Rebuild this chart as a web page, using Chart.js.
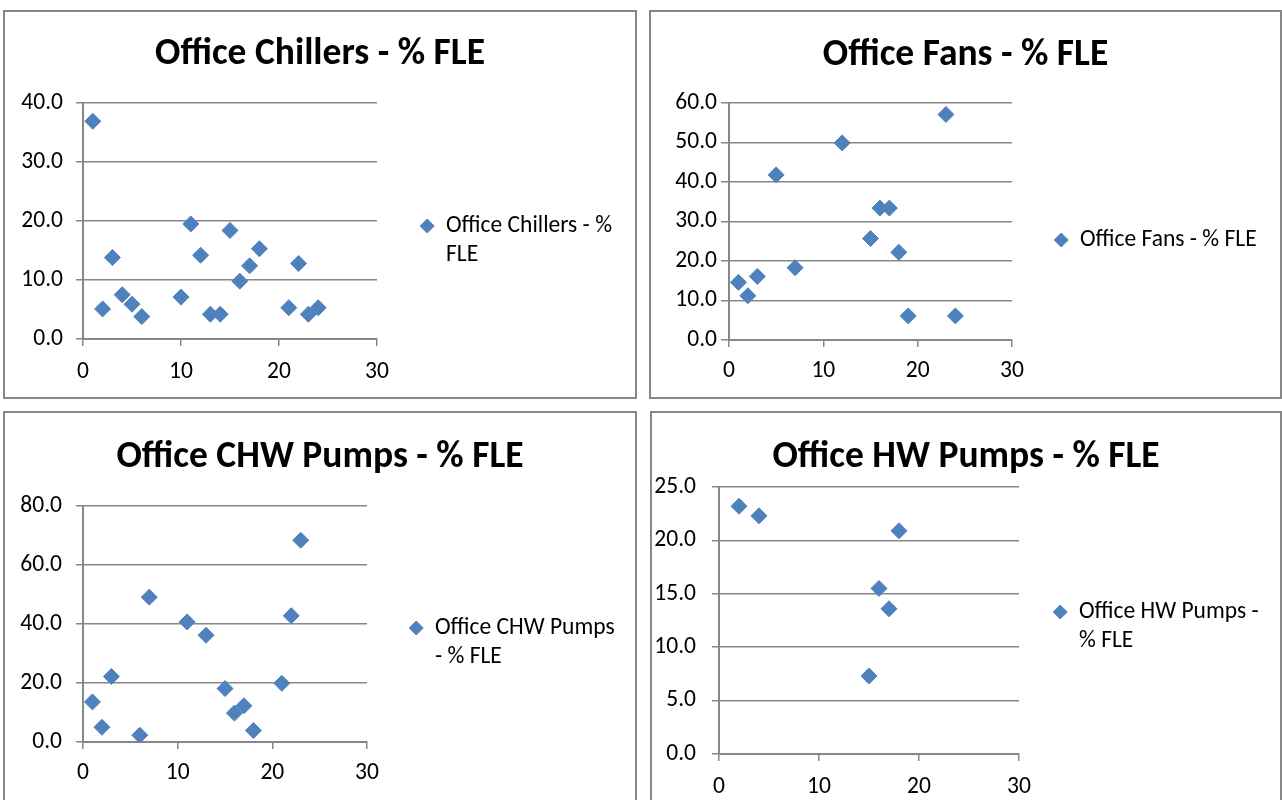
<!DOCTYPE html>
<html>
<head>
<meta charset="utf-8">
<script src="https://cdn.jsdelivr.net/npm/chart.js@4.4.1/dist/chart.umd.min.js"></script>
<style>
  html, body { margin: 0; padding: 0; background: #ffffff; }
  #page { position: relative; width: 1282px; height: 800px; overflow: hidden; background: #ffffff; }
  .box { position: absolute; box-sizing: border-box; border: 2px solid #878787; background: #ffffff; }
  .box canvas { display: block; }
</style>
</head>
<body>
<div id="page">
  <div class="box" style="left:3px;top:10px;width:634px;height:389px"><canvas id="c0"></canvas></div>
  <div class="box" style="left:649px;top:10px;width:633px;height:389px"><canvas id="c1"></canvas></div>
  <div class="box" style="left:3px;top:411px;width:634px;height:400px"><canvas id="c2"></canvas></div>
  <div class="box" style="left:650px;top:411px;width:632px;height:400px"><canvas id="c3"></canvas></div>
</div>
<script>
// ---------------- DATA ----------------
const xTicks = [0, 10, 20, 30];

const chillersTitle = 'Office Chillers - % FLE';
const chillersLegend = ['Office Chillers - %', 'FLE'];
const chillersX = [1, 2, 3, 4, 5, 6, 10, 11, 12, 13, 14, 15, 16, 17, 18, 21, 22, 23, 24];
const chillersY = [36.9, 5.1, 13.8, 7.5, 5.9, 3.8, 7.1, 19.5, 14.2, 4.2, 4.2, 18.4, 9.8, 12.4, 15.3, 5.3, 12.8, 4.2, 5.3];
const chillersYTicks = [0, 10, 20, 30, 40];

const fansTitle = 'Office Fans - % FLE';
const fansLegend = ['Office Fans - % FLE'];
const fansX = [1, 2, 3, 5, 7, 12, 15, 16, 17, 18, 19, 23, 24];
const fansY = [14.6, 11.2, 16.1, 41.8, 18.3, 49.9, 25.7, 33.4, 33.4, 22.2, 6.1, 57.1, 6.1];
const fansYTicks = [0, 10, 20, 30, 40, 50, 60];

const chwTitle = 'Office CHW Pumps - % FLE';
const chwLegend = ['Office CHW Pumps', '- % FLE'];
const chwX = [1, 2, 3, 6, 7, 11, 13, 15, 16, 17, 18, 21, 22, 23];
const chwY = [13.6, 5.0, 22.2, 2.3, 49.1, 40.7, 36.2, 18.1, 9.8, 12.3, 3.9, 19.9, 42.8, 68.4];
const chwYTicks = [0, 20, 40, 60, 80];

const hwTitle = 'Office HW Pumps - % FLE';
const hwLegend = ['Office HW Pumps -', '% FLE'];
const hwX = [2, 4, 15, 16, 17, 18];
const hwY = [23.2, 22.3, 7.3, 15.5, 13.6, 20.9];
const hwYTicks = [0, 5, 10, 15, 20, 25];

// ---------------- STYLE / LAYOUT ----------------
const FAMILY = 'Carlito, Lato, sans-serif';
const BLUE = '#4f81bd';
const GRAY = '#878787';
const TEXT = '#000000';
const LEG_BOX_W = 14;

// canvas-relative layout targets for each panel
const layouts = [
  { id: 'c0', w: 630, h: 385, left: 78, right: 372, top: 91, bottom: 327, titleY: 43, textX: 441, legY: 214, yTick: 7, yPad: 13, xPad: 12 },
  { id: 'c1', w: 629, h: 385, left: 78, right: 361, top: 91, bottom: 328, titleY: 43.5, textX: 429, legY: 228, yTick: 8, yPad: 4, xPad: 10 },
  { id: 'c2', w: 630, h: 396, left: 78, right: 362, top: 93, bottom: 329, titleY: 45, textX: 430, legY: 215, yTick: 7, yPad: 14, xPad: 10 },
  { id: 'c3', w: 628, h: 396, left: 67, right: 367, top: 74, bottom: 341, titleY: 45, textX: 427, legY: 199, yTick: 7, yPad: 16, xPad: 12 }
];

const panels = [
  { title: chillersTitle, legend: chillersLegend, xs: chillersX, ys: chillersY, yTicks: chillersYTicks },
  { title: fansTitle, legend: fansLegend, xs: fansX, ys: fansY, yTicks: fansYTicks },
  { title: chwTitle, legend: chwLegend, xs: chwX, ys: chwY, yTicks: chwYTicks },
  { title: hwTitle, legend: hwLegend, xs: hwX, ys: hwY, yTicks: hwYTicks }
];

// keep the chart title centred on the whole panel
const centerTitle = {
  id: 'centerTitle',
  afterLayout(chart) {
    const t = chart.titleBlock;
    if (t) { t.left = 0; t.right = chart.width; t.width = chart.width; }
  }
};

function fitSize(text, weight, target) {
  const c = document.createElement('canvas').getContext('2d');
  c.font = weight + ' 100px ' + FAMILY;
  return 100 * target / c.measureText(text).width;
}

function build() {
  const titleSize = fitSize(chillersTitle, 'bold', 330);
  const legSize = fitSize('Office Chillers - %', 'normal', 166);
  const titleLH = titleSize * 1.2;

  panels.forEach((p, i) => {
    const L = layouts[i];
    const canvas = document.getElementById(L.id);
    canvas.width = L.w; canvas.height = L.h;
    canvas.style.width = L.w + 'px'; canvas.style.height = L.h + 'px';

    let PR = 10;
    const itemX = L.textX - LEG_BOX_W - legSize / 2;
    const legPad = itemX - L.right;
    const legTitlePad = Math.max(0, L.legY - legSize / 2 - legPad - 1);
    const tTop = L.titleY - titleLH / 2;
    const tBot = Math.max(0, L.top - tTop - titleLH);

    const chart = new Chart(canvas, {
      type: 'scatter',
      plugins: [centerTitle],
      data: {
        datasets: [{
          label: p.legend.join(' '),
          data: p.xs.map((x, k) => ({ x: x, y: p.ys[k] })),
          pointStyle: 'rectRot',
          pointRadius: 8,
          pointHoverRadius: 8,
          backgroundColor: BLUE,
          borderColor: BLUE,
          borderWidth: 1,
          showLine: false
        }]
      },
      options: {
        responsive: false,
        animation: false,
        devicePixelRatio: 1,
        layout: { padding: { left: 0, right: PR, top: 0, bottom: 0 } },
        plugins: {
          tooltip: { enabled: false },
          title: {
            display: true,
            text: p.title,
            color: TEXT,
            font: { family: FAMILY, weight: 'bold', size: titleSize, lineHeight: 1.2 },
            padding: { top: tTop, bottom: tBot }
          },
          legend: {
            position: 'right',
            align: 'start',
            maxWidth: 600,
            title: { display: true, text: '', font: { size: 1, lineHeight: 1 }, padding: { top: legTitlePad, bottom: 0 } },
            labels: {
              usePointStyle: true,
              pointStyleWidth: LEG_BOX_W,
              boxHeight: LEG_BOX_W / Math.SQRT2,
              padding: legPad,
              color: TEXT,
              font: { family: FAMILY, size: legSize, lineHeight: 29 / legSize },
              generateLabels: () => [{
                text: p.legend.length > 1 ? p.legend : p.legend[0],
                fontColor: TEXT,
                fillStyle: BLUE, strokeStyle: BLUE, lineWidth: 1,
                pointStyle: 'rectRot', rotation: 0, hidden: false, datasetIndex: 0
              }]
            }
          }
        },
        scales: {
          x: {
            type: 'linear',
            position: 'bottom',
            min: xTicks[0],
            max: xTicks[xTicks.length - 1],
            ticks: { stepSize: xTicks[1] - xTicks[0], padding: L.xPad, color: TEXT, font: { family: FAMILY, size: legSize }, maxRotation: 0, autoSkip: false },
            grid: { drawOnChartArea: false, drawTicks: true, tickLength: 7, color: GRAY, tickColor: GRAY, lineWidth: 1.5 },
            border: { display: true, color: GRAY, width: 2 },
            afterFit: (s) => { s.height = L.h - L.bottom; }
          },
          y: {
            type: 'linear',
            position: 'left',
            min: p.yTicks[0],
            max: p.yTicks[p.yTicks.length - 1],
            ticks: { stepSize: p.yTicks[1] - p.yTicks[0], padding: L.yPad, color: TEXT, font: { family: FAMILY, size: legSize }, callback: (v) => Number(v).toFixed(1) },
            grid: { color: GRAY, tickColor: GRAY, lineWidth: 1.5, tickLength: L.yTick },
            border: { display: true, color: GRAY, width: 2 },
            afterFit: (s) => { s.width = L.left; }
          }
        }
      }
    });

    // correct right padding so the plot area ends where the legend begins
    const d = chart.chartArea.right - L.right;
    if (Math.abs(d) > 0.2) {
      PR = Math.max(0, PR + d);
      chart.options.layout.padding = { left: 0, right: PR, top: 0, bottom: 0 };
      chart.update('none');
    }
  });
}

if (document.fonts && document.fonts.load) {
  Promise.all([
    document.fonts.load('bold 30px Lato'),
    document.fonts.load('20px Lato')
  ]).catch(() => {}).then(build);
} else {
  build();
}
</script>
</body>
</html>
